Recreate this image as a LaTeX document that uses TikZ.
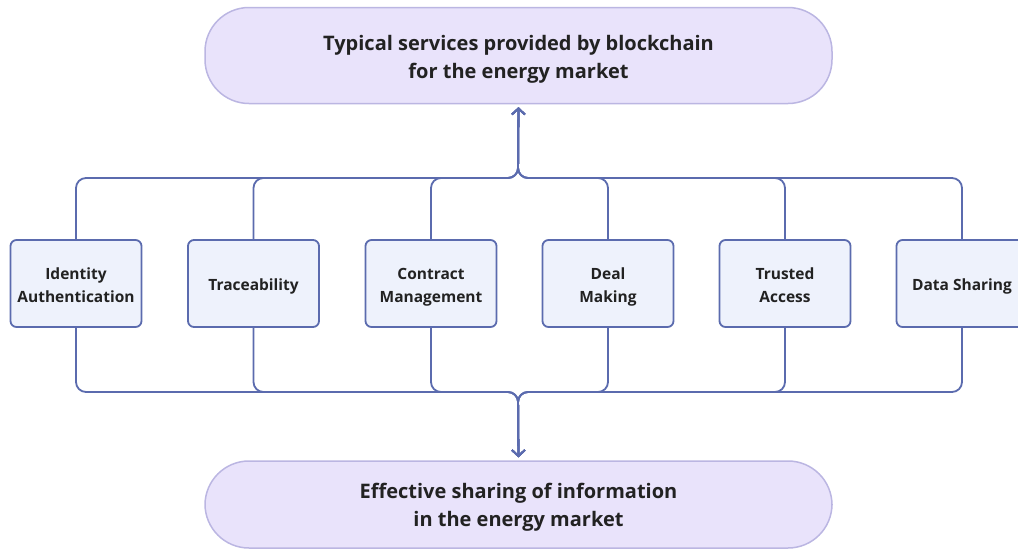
\documentclass[tikz,border=0pt]{standalone}
\usepackage{fontspec}
\setmainfont{Open Sans}
\usetikzlibrary{arrows.meta}
\definecolor{pillfill}{HTML}{E9E3FB}
\definecolor{pillline}{HTML}{BBB6E2}
\definecolor{boxfill}{HTML}{EEF2FC}
\definecolor{boxline}{HTML}{5B6BAE}
\definecolor{txt}{HTML}{222222}
\newcommand{\twolines}[3]{\raisebox{#1}[\height][\depth]{\begin{tabular}{@{}c@{}}#2\\#3\end{tabular}}}
\newcommand{\oneline}[2]{\raisebox{#1}[\height][\depth]{#2}}
\begin{document}
\begin{tikzpicture}[x=1pt,y=-1pt,
  pill/.style={draw=pillline,fill=pillfill,line width=1.5pt,rounded corners=44pt,
    minimum width=627pt,minimum height=96pt,align=center,text=txt,
    font=\fontsize{20}{28}\selectfont\bfseries},
  svcbox/.style={draw=boxline,fill=boxfill,line width=1.8pt,rounded corners=6pt,
    minimum width=131pt,minimum height=87pt,align=center,text=txt,
    font=\fontsize{15.5}{23}\selectfont\bfseries},
  link/.style={draw=boxline,line width=1.8pt,rounded corners=10pt},
  arr/.style={link,shorten >=3pt,-{Straight Barb[length=6pt,width=13pt,line width=1.8pt]}}]
\useasboundingbox (0,0) rectangle (1018,550);
\node[pill] (top) at (518.5,55.5) {\twolines{-3pt}{Typical services provided by blockchain}{for the energy market}};
\node[pill,minimum height=87pt] (bot) at (518.5,504.5) {\twolines{-2pt}{Effective sharing of information}{in the energy market}};
\node[svcbox] (b1) at (76,283.5) {\twolines{-2.5pt}{Identity}{Authentication}};
\node[svcbox] (b2) at (253.5,283.5) {\oneline{-2.5pt}{Traceability}};
\node[svcbox] (b3) at (431,283.5) {\twolines{-2.5pt}{Contract}{Management}};
\node[svcbox] (b4) at (608,283.5) {\twolines{-2.5pt}{Deal}{Making}};
\node[svcbox] (b5) at (785,283.5) {\twolines{-2.5pt}{Trusted}{Access}};
\node[svcbox] (b6) at (962,283.5) {\oneline{-2.5pt}{Data Sharing}};
\coordinate (hubtop) at (518,178);
\coordinate (hubbot) at (518,392);
\foreach \b in {b1,b2,b3,b4,b5,b6}{
  \draw[arr] (\b.north) |- (hubtop) -- (top.south);
  \draw[arr] (\b.south) |- (hubbot) -- (bot.north);
}
\end{tikzpicture}
\end{document}
